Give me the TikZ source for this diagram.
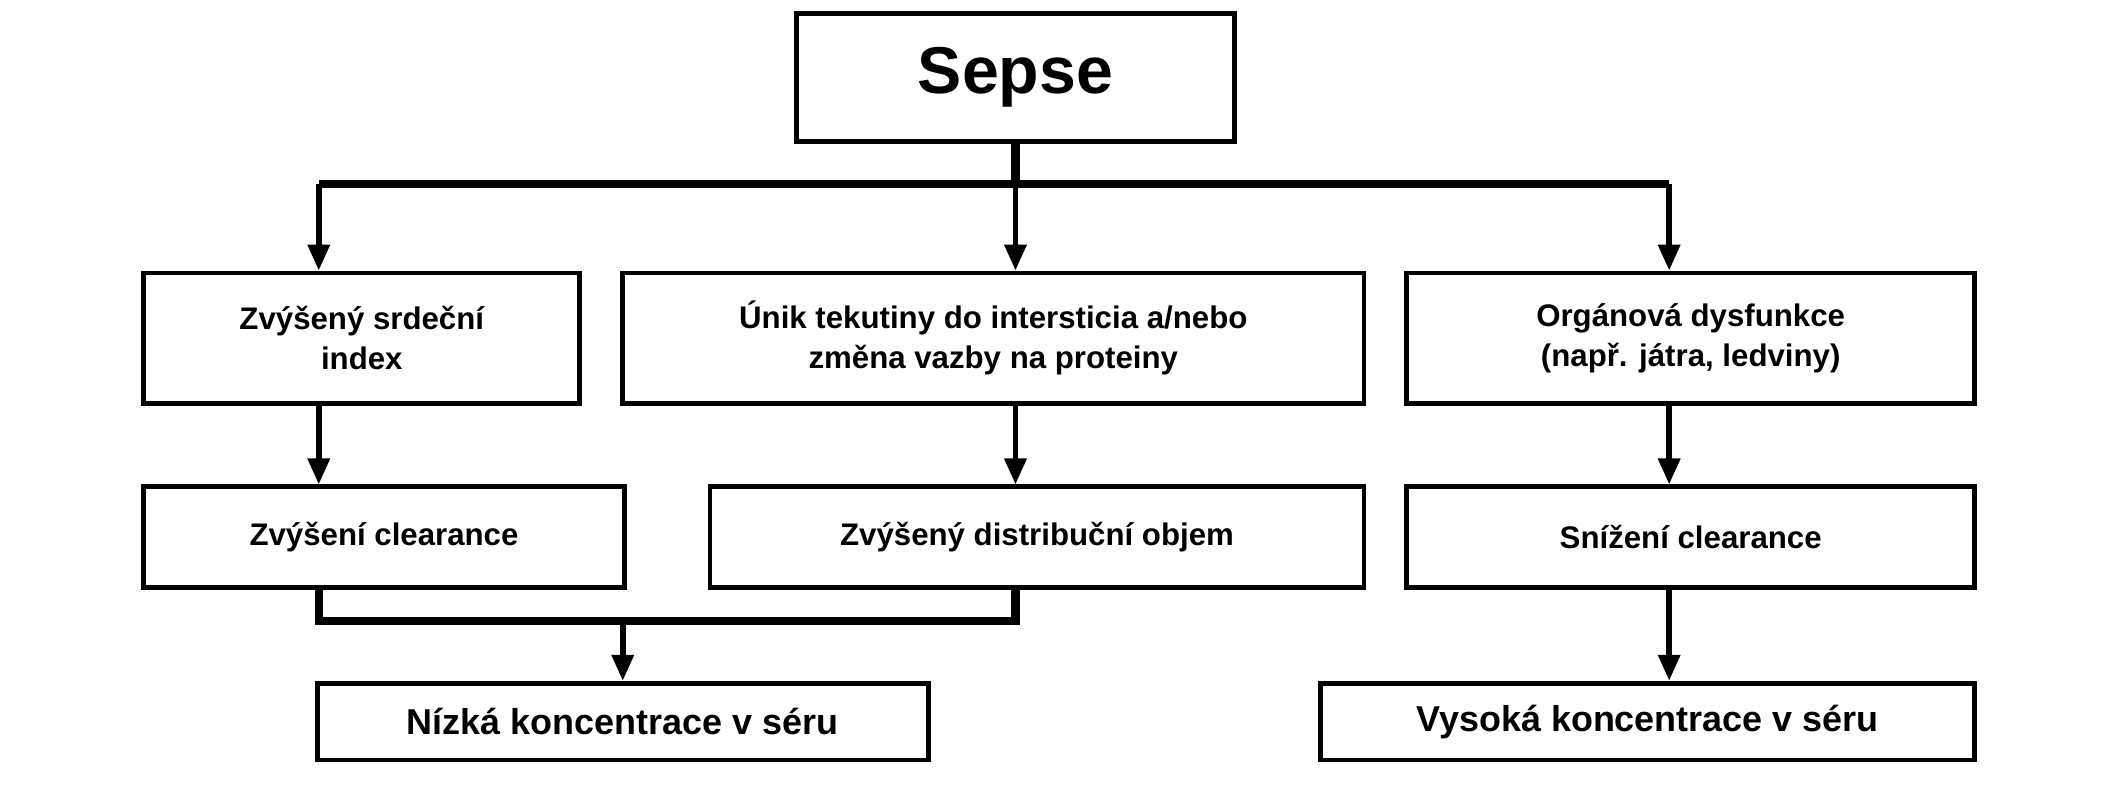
\documentclass[tikz,border=0pt]{standalone}
\usepackage{fontspec}
\setmainfont{Liberation Sans}
\usetikzlibrary{arrows.meta}
\begin{document}
\begin{tikzpicture}[x=0.01cm,y=-0.01cm,
  box/.style={draw,line width=1pt,inner sep=0pt,font=\bfseries\fontsize{6.6}{8.5}\selectfont,align=center},
  conn/.style={line width=1.2pt,-{Triangle[length=5.5pt,width=4.5pt]}},
  bus/.style={line width=1.7pt}]
\useasboundingbox (0,0) rectangle (1568,595);
\node[box,minimum width=3.25cm,minimum height=0.95cm,font=\bfseries\fontsize{14}{16}\selectfont] (s) at (755,57.5) {Sepse};
\node[box,minimum width=3.24cm,minimum height=0.97cm] (a) at (269,251.5) {Zvýšený srdeční\\index};
\node[box,minimum width=5.51cm,minimum height=0.97cm] (b) at (738.5,251.5) {Únik tekutiny do intersticia a/nebo\\změna vazby na proteiny};
\node[box,minimum width=4.22cm,minimum height=0.97cm] (c) at (1257,251.5) {Orgánová dysfunkce\\(např. játra, ledviny)};
\node[box,minimum width=3.57cm,minimum height=0.75cm] (d) at (285.5,399.5) {Zvýšení clearance};
\node[box,minimum width=4.86cm,minimum height=0.75cm] (e) at (771,399.5) {Zvýšený distribuční objem};
\node[box,minimum width=4.22cm,minimum height=0.75cm] (f) at (1257,399.5) {Snížení clearance};
\node[box,minimum width=4.54cm,minimum height=0.57cm,font=\bfseries\fontsize{7.6}{9}\selectfont] (g) at (463,536.5) {Nízká koncentrace v séru};
\node[box,minimum width=4.86cm,minimum height=0.57cm,font=\bfseries\fontsize{7.6}{9}\selectfont] (h) at (1225,536.5) {Vysoká koncentrace v séru};
\coordinate (t0) at (755,137);
\coordinate (tl) at (237,137);
\coordinate (tr) at (1241,137);
\draw[bus] (s.south) -- (t0);
\draw[bus] (tl) -- (tr);
\draw[conn] (tl) -- (tl |- a.north);
\draw[conn] (t0) -- (t0 |- b.north);
\draw[conn] (tr) -- (tr |- c.north);
\draw[conn] (tl |- a.south) -- (tl |- d.north);
\draw[conn] (t0 |- b.south) -- (t0 |- e.north);
\draw[conn] (tr |- c.south) -- (tr |- f.north);
\coordinate (bl) at (237,462);
\coordinate (br) at (755,462);
\coordinate (bm) at (463,462);
\draw[bus] (tl |- d.south) -- (bl) -- (br) -- (t0 |- e.south);
\draw[conn] (bm) -- (g.north);
\draw[conn] (tr |- f.south) -- (tr |- h.north);
\end{tikzpicture}
\end{document}
